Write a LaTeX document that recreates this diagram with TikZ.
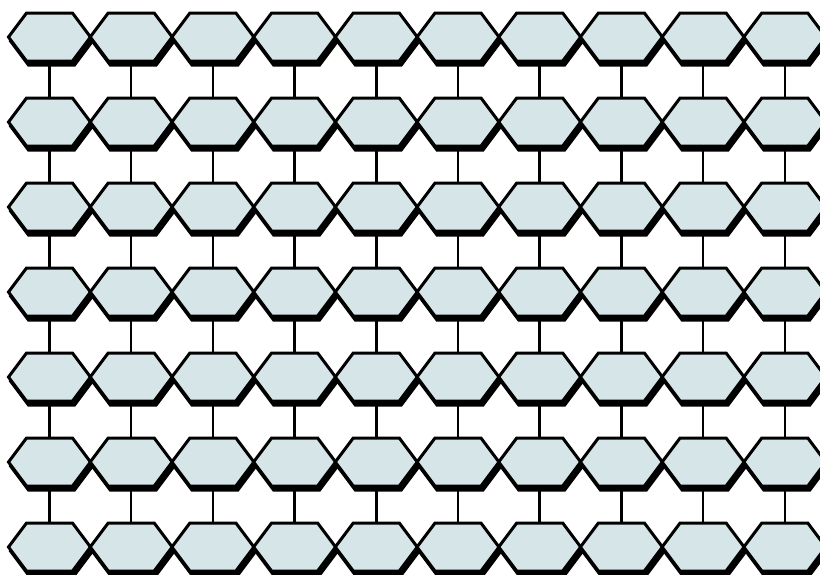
\documentclass[tikz,border=0pt]{standalone}
\definecolor{hexfill}{RGB}{214,230,232}
\begin{document}
\begin{tikzpicture}[x=1pt,y=-1pt,
  hexshape/.style={draw=black, line width=3pt, line join=miter, fill=hexfill},
  hexshadow/.style={draw=black, fill=black, line width=3pt, line join=miter},
  link/.style={draw=black, line width=2.5pt}]
\useasboundingbox (0,0) rectangle (820,574);
\foreach \r in {0,...,6}{
  \foreach \c in {0,...,9}{
    \coordinate (h-\r-\c) at ({49.5+81.7*\c},{37+85*\r});
  }
}
% connectors
\foreach \r in {0,...,5}{
  \pgfmathtruncatemacro{\n}{\r+1}
  \foreach \c in {0,...,9}{
    \draw[link] (h-\r-\c) -- (h-\n-\c);
  }
}
% shadows
\foreach \r in {0,...,6}{
  \foreach \c in {0,...,9}{
    \path[hexshadow] ([xshift=2pt,yshift=-4pt]h-\r-\c) +(-41,0) -- +(-23,-24) -- +(23,-24) -- +(41,0) -- +(23,24) -- +(-23,24) -- cycle;
  }
}
% hexagons
\foreach \r in {0,...,6}{
  \foreach \c in {0,...,9}{
    \path[hexshape] (h-\r-\c) +(-41,0) -- +(-23,-24) -- +(23,-24) -- +(41,0) -- +(23,24) -- +(-23,24) -- cycle;
  }
}
\end{tikzpicture}
\end{document}
